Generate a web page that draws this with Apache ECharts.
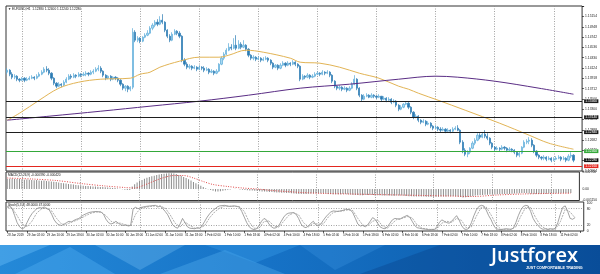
<!DOCTYPE html>
<html><head><meta charset="utf-8">
<script src="https://cdn.jsdelivr.net/npm/echarts@6/dist/echarts.min.js"></script>
<style>html,body{margin:0;padding:0;background:#fff}#c{width:600px;height:274px}</style>
</head><body><div id="c"></div>
<script>
// ---------------- DATA ----------------
const symbolName = 'EURUSD,H1';
const barCount = 234; // slots on the time axis (last few empty = chart shift)
const labelEvery = 8;
const timeLabels = ['28 Jan 2019','29 Jan 02:00','29 Jan 10:00','29 Jan 18:00','30 Jan 02:00','30 Jan 10:00','30 Jan 18:00',
 '31 Jan 02:00','31 Jan 10:00','31 Jan 18:00','1 Feb 02:00','1 Feb 10:00','1 Feb 18:00','4 Feb 02:00','4 Feb 10:00',
 '4 Feb 18:00','5 Feb 02:00','5 Feb 10:00','5 Feb 18:00','6 Feb 02:00','6 Feb 10:00','6 Feb 18:00','7 Feb 02:00',
 '7 Feb 10:00','7 Feb 18:00','8 Feb 02:00','8 Feb 10:00','8 Feb 18:00','11 Feb 02:00'];
const dayStartBars = [6,30,54,78,102,126,150,174,198,222];

// [open, close, low, high]
const bars = [
[1.1404,1.1408,1.1400,1.1412],[1.1408,1.1400,1.1396,1.1410],[1.1400,1.1394,1.1390,1.1404],[1.1394,1.1396,1.1390,1.1400],
[1.1396,1.1390,1.1386,1.1398],[1.1390,1.1388,1.1384,1.1392],[1.1388,1.1392,1.1386,1.1394],[1.1392,1.1388,1.1384,1.1394],
[1.1388,1.1390,1.1386,1.1394],[1.1390,1.1392,1.1388,1.1396],[1.1392,1.1394,1.1390,1.1398],[1.1394,1.1392,1.1388,1.1396],
[1.1392,1.1396,1.1390,1.1400],[1.1396,1.1400,1.1394,1.1404],[1.1400,1.1404,1.1398,1.1408],[1.1404,1.1410,1.1402,1.1414],
[1.1410,1.1408,1.1404,1.1416],[1.1408,1.1402,1.1398,1.1412],[1.1402,1.1392,1.1388,1.1404],[1.1392,1.1382,1.1378,1.1394],
[1.1382,1.1376,1.1372,1.1384],[1.1376,1.1380,1.1374,1.1384],[1.1380,1.1378,1.1374,1.1382],[1.1378,1.1384,1.1376,1.1388],
[1.1384,1.1390,1.1382,1.1394],[1.1390,1.1396,1.1388,1.1400],[1.1396,1.1394,1.1390,1.1400],[1.1394,1.1398,1.1392,1.1402],
[1.1398,1.1396,1.1392,1.1400],[1.1396,1.1400,1.1394,1.1404],[1.1400,1.1398,1.1394,1.1402],[1.1398,1.1400,1.1396,1.1404],
[1.1400,1.1402,1.1396,1.1406],[1.1402,1.1400,1.1396,1.1404],[1.1400,1.1404,1.1398,1.1408],[1.1404,1.1406,1.1400,1.1410],
[1.1406,1.1410,1.1404,1.1414],[1.1410,1.1412,1.1406,1.1418],[1.1412,1.1406,1.1402,1.1416],[1.1406,1.1398,1.1394,1.1408],
[1.1398,1.1392,1.1388,1.1400],[1.1392,1.1396,1.1390,1.1398],[1.1396,1.1390,1.1386,1.1398],[1.1390,1.1394,1.1388,1.1396],
[1.1394,1.1392,1.1388,1.1396],[1.1392,1.1388,1.1384,1.1394],[1.1388,1.1380,1.1376,1.1390],[1.1380,1.1372,1.1368,1.1382],
[1.1372,1.1376,1.1366,1.1378],[1.1376,1.1370,1.1364,1.1378],[1.1370,1.1374,1.1366,1.1376],[1.1374,1.1484,1.1370,1.1492],
[1.1484,1.1468,1.1464,1.1488],[1.1468,1.1472,1.1464,1.1476],[1.1472,1.1466,1.1462,1.1474],[1.1466,1.1474,1.1464,1.1476],
[1.1474,1.1478,1.1472,1.1482],[1.1478,1.1482,1.1476,1.1488],[1.1482,1.1492,1.1480,1.1496],[1.1492,1.1498,1.1488,1.1502],
[1.1498,1.1504,1.1494,1.1508],[1.1504,1.1500,1.1496,1.1510],[1.1500,1.1508,1.1498,1.1516],[1.1508,1.1504,1.1500,1.1520],
[1.1504,1.1488,1.1484,1.1506],[1.1488,1.1476,1.1472,1.1490],[1.1476,1.1468,1.1464,1.1480],[1.1468,1.1480,1.1466,1.1484],
[1.1480,1.1486,1.1478,1.1490],[1.1486,1.1482,1.1478,1.1488],[1.1482,1.1476,1.1472,1.1486],[1.1476,1.1428,1.1424,1.1478],
[1.1428,1.1420,1.1416,1.1432],[1.1420,1.1414,1.1410,1.1424],[1.1414,1.1416,1.1410,1.1420],[1.1416,1.1412,1.1408,1.1418],
[1.1412,1.1414,1.1410,1.1418],[1.1414,1.1410,1.1406,1.1416],[1.1410,1.1414,1.1408,1.1418],[1.1414,1.1412,1.1408,1.1416],
[1.1412,1.1408,1.1404,1.1416],[1.1408,1.1410,1.1406,1.1414],[1.1410,1.1404,1.1400,1.1412],[1.1404,1.1406,1.1402,1.1410],
[1.1406,1.1402,1.1398,1.1408],[1.1402,1.1406,1.1400,1.1410],[1.1406,1.1420,1.1404,1.1422],[1.1420,1.1432,1.1418,1.1436],
[1.1432,1.1440,1.1428,1.1444],[1.1440,1.1448,1.1438,1.1452],[1.1448,1.1454,1.1446,1.1462],[1.1454,1.1452,1.1448,1.1460],
[1.1452,1.1458,1.1450,1.1472],[1.1458,1.1452,1.1448,1.1478],[1.1452,1.1460,1.1450,1.1468],[1.1460,1.1454,1.1450,1.1464],
[1.1454,1.1458,1.1452,1.1468],[1.1458,1.1450,1.1446,1.1460],[1.1450,1.1438,1.1434,1.1452],[1.1438,1.1432,1.1428,1.1440],
[1.1432,1.1434,1.1428,1.1438],[1.1434,1.1430,1.1426,1.1436],[1.1430,1.1432,1.1428,1.1436],[1.1432,1.1428,1.1424,1.1434],
[1.1428,1.1430,1.1426,1.1434],[1.1430,1.1432,1.1428,1.1436],[1.1432,1.1428,1.1424,1.1434],[1.1428,1.1422,1.1418,1.1430],
[1.1422,1.1414,1.1410,1.1424],[1.1414,1.1418,1.1412,1.1420],[1.1418,1.1412,1.1408,1.1420],[1.1412,1.1418,1.1410,1.1422],
[1.1418,1.1422,1.1416,1.1426],[1.1422,1.1418,1.1414,1.1424],[1.1418,1.1422,1.1416,1.1426],[1.1422,1.1420,1.1416,1.1424],
[1.1420,1.1424,1.1418,1.1428],[1.1424,1.1420,1.1416,1.1426],[1.1420,1.1416,1.1412,1.1422],[1.1416,1.1390,1.1386,1.1418],
[1.1390,1.1396,1.1388,1.1400],[1.1396,1.1394,1.1390,1.1398],[1.1394,1.1398,1.1392,1.1402],[1.1398,1.1394,1.1390,1.1400],
[1.1394,1.1396,1.1392,1.1400],[1.1396,1.1400,1.1394,1.1404],[1.1400,1.1402,1.1398,1.1406],[1.1402,1.1400,1.1396,1.1404],
[1.1400,1.1404,1.1398,1.1408],[1.1404,1.1402,1.1398,1.1406],[1.1402,1.1404,1.1400,1.1408],[1.1404,1.1398,1.1394,1.1406],
[1.1398,1.1386,1.1382,1.1400],[1.1386,1.1376,1.1372,1.1388],[1.1376,1.1372,1.1368,1.1378],[1.1372,1.1374,1.1368,1.1378],
[1.1374,1.1370,1.1366,1.1376],[1.1370,1.1372,1.1368,1.1376],[1.1372,1.1368,1.1364,1.1374],[1.1368,1.1372,1.1366,1.1376],
[1.1372,1.1380,1.1370,1.1384],[1.1380,1.1390,1.1378,1.1398],[1.1390,1.1372,1.1368,1.1392],[1.1372,1.1358,1.1354,1.1374],
[1.1358,1.1350,1.1346,1.1360],[1.1350,1.1356,1.1348,1.1360],[1.1356,1.1358,1.1354,1.1362],[1.1358,1.1354,1.1352,1.1360],
[1.1354,1.1358,1.1352,1.1362],[1.1358,1.1356,1.1352,1.1360],[1.1356,1.1354,1.1350,1.1358],[1.1354,1.1356,1.1352,1.1360],
[1.1356,1.1350,1.1346,1.1356],[1.1350,1.1352,1.1348,1.1356],[1.1352,1.1348,1.1344,1.1354],[1.1348,1.1350,1.1346,1.1354],
[1.1350,1.1344,1.1340,1.1352],[1.1344,1.1346,1.1342,1.1350],[1.1346,1.1338,1.1334,1.1348],[1.1338,1.1330,1.1326,1.1340],
[1.1330,1.1334,1.1328,1.1338],[1.1334,1.1340,1.1332,1.1342],[1.1340,1.1342,1.1338,1.1346],[1.1342,1.1334,1.1330,1.1344],
[1.1334,1.1324,1.1320,1.1336],[1.1324,1.1314,1.1310,1.1326],[1.1314,1.1316,1.1312,1.1320],[1.1316,1.1308,1.1304,1.1318],
[1.1308,1.1304,1.1300,1.1310],[1.1304,1.1306,1.1302,1.1310],[1.1306,1.1300,1.1296,1.1308],[1.1300,1.1302,1.1298,1.1306],
[1.1302,1.1296,1.1292,1.1304],[1.1296,1.1292,1.1288,1.1298],[1.1292,1.1294,1.1290,1.1298],[1.1294,1.1290,1.1286,1.1296],
[1.1290,1.1288,1.1284,1.1294],[1.1288,1.1290,1.1286,1.1294],[1.1290,1.1286,1.1282,1.1292],[1.1286,1.1288,1.1284,1.1292],
[1.1288,1.1286,1.1282,1.1290],[1.1286,1.1290,1.1284,1.1294],[1.1290,1.1292,1.1288,1.1296],[1.1292,1.1288,1.1286,1.1298],
[1.1288,1.1264,1.1260,1.1290],[1.1264,1.1248,1.1242,1.1268],[1.1248,1.1240,1.1236,1.1252],[1.1240,1.1244,1.1234,1.1248],
[1.1244,1.1252,1.1240,1.1254],[1.1252,1.1262,1.1250,1.1266],[1.1262,1.1268,1.1258,1.1272],[1.1268,1.1278,1.1266,1.1282],
[1.1278,1.1274,1.1270,1.1282],[1.1274,1.1280,1.1272,1.1284],[1.1280,1.1276,1.1272,1.1288],[1.1276,1.1272,1.1268,1.1282],
[1.1272,1.1262,1.1258,1.1274],[1.1262,1.1254,1.1250,1.1264],[1.1254,1.1250,1.1246,1.1256],[1.1250,1.1252,1.1248,1.1256],
[1.1252,1.1250,1.1246,1.1254],[1.1250,1.1254,1.1248,1.1258],[1.1254,1.1252,1.1248,1.1256],[1.1252,1.1248,1.1244,1.1254],
[1.1248,1.1250,1.1246,1.1254],[1.1250,1.1248,1.1244,1.1252],[1.1248,1.1244,1.1240,1.1250],[1.1244,1.1238,1.1234,1.1246],
[1.1238,1.1242,1.1234,1.1246],[1.1242,1.1254,1.1240,1.1256],[1.1254,1.1264,1.1252,1.1268],[1.1264,1.1266,1.1260,1.1270],
[1.1266,1.1268,1.1260,1.1274],[1.1268,1.1258,1.1254,1.1272],[1.1258,1.1246,1.1242,1.1260],[1.1246,1.1238,1.1234,1.1248],
[1.1238,1.1234,1.1230,1.1240],[1.1234,1.1232,1.1228,1.1236],[1.1232,1.1234,1.1228,1.1238],[1.1234,1.1230,1.1226,1.1236],
[1.1230,1.1232,1.1228,1.1236],[1.1232,1.1228,1.1224,1.1234],[1.1228,1.1230,1.1226,1.1234],[1.1230,1.1232,1.1228,1.1236],
[1.1232,1.1234,1.1230,1.1238],[1.1234,1.1230,1.1226,1.1236],[1.1230,1.1232,1.1228,1.1236],[1.1232,1.1228,1.1224,1.1234],
[1.1228,1.1236,1.1226,1.1240],[1.1236,1.1238,1.1232,1.1244],[1.1238,1.1228,1.1224,1.1240]
];

// moving averages, read at key bars: [barIndex, price]
const maFast = [[0,1.1308],[5,1.1322],[13,1.1348],[21,1.1372],[29,1.1384],[38,1.1390],[50,1.1392],[54,1.1400],[58,1.1404],
 [62,1.1414],[70,1.1426],[78,1.1434],[86,1.1434],[90,1.1438],[97,1.1448],[104,1.1444],[115,1.1432],[119,1.1424],[127,1.1422],
 [135,1.1414],[143,1.1402],[151,1.1392],[159,1.1376],[163,1.1370],[167,1.1362],[175,1.1348],[186,1.1328],[200,1.1302],
 [212,1.1278],[220,1.1262],[230,1.1250]];
const maSlow = [[0,1.1308],[17,1.1316],[38,1.1326],[58,1.1336],[78,1.1346],[98,1.1358],[119,1.1372],[139,1.1380],
 [159,1.1390],[174,1.1396],[183,1.1394],[198,1.1386],[216,1.1372],[230,1.1360]];

const levelLines = [1.1346, 1.1314, 1.1284];
const greenLevel = 1.1246;
const redLevel = 1.1216;

const macdHist = [
 0.00100,0.00102,0.00105,0.00101,0.00099,0.00100,0.00097,0.00093,0.00096,0.00092,
 0.00090,0.00088,0.00089,0.00086,0.00083,0.00085,0.00080,0.00078,0.00076,0.00072,0.00069,0.00066,
 0.00061,0.00058,0.00054,0.00051,0.00048,0.00044,0.00040,0.00037,
 0.00034,0.00032,0.00031,0.00029,0.00028,0.00025,0.00026,0.00023,0.00021,0.00019,0.00018,0.00014,0.00012,0.00011,0.00009,0.00006,
 0.00002,-0.00003,-0.00007,-0.00010,-0.00009,
 0.00024,
 0.00048,0.00066,0.00080,0.00091,0.00102,0.00112,0.00121,0.00128,0.00133,0.00139,0.00144,
 0.00149,0.00153,0.00156,0.00158,0.00157,0.00154,
 0.00149,0.00141,0.00132,0.00121,0.00110,0.00098,
 0.00084,0.00071,0.00058,0.00046,
 0.00032,0.00019,0.00008,-0.00002,-0.00011,-0.00018,
 -0.00024,-0.00026,-0.00022,-0.00017,-0.00012,-0.00008,
 -0.00004,0.00001,0.00003,0.00001,-0.00004,-0.00007,-0.00010,-0.00012,-0.00014,-0.00016,-0.00018,-0.00020,
 -0.00022,-0.00024,-0.00026,-0.00028,-0.00030,-0.00031,-0.00032,-0.00034,-0.00036,-0.00037,-0.00038,-0.00040,-0.00041,-0.00042,-0.00044,-0.00047,
 -0.00049,-0.00050,-0.00050,-0.00049,-0.00048,-0.00046,-0.00044,-0.00043,-0.00042,-0.00042,-0.00043,-0.00046,-0.00049,-0.00051,-0.00052,-0.00052,
 -0.00053,-0.00052,-0.00051,-0.00050,-0.00052,-0.00055,-0.00058,-0.00060,-0.00061,-0.00062,-0.00062,-0.00061,-0.00060,-0.00060,-0.00061,-0.00062,-0.00063,-0.00063,-0.00064,-0.00064,-0.00065,-0.00066,-0.00067,-0.00067,
 -0.00066,-0.00065,-0.00066,-0.00068,-0.00070,-0.00072,-0.00073,-0.00074,-0.00075,-0.00075,-0.00076,-0.00076,-0.00077,-0.00077,-0.00078,-0.00078,-0.00077,-0.00077,-0.00076,-0.00075,-0.00074,-0.00073,-0.00072,-0.00071,-0.00072,
 -0.00076,-0.00081,-0.00084,-0.00083,-0.00080,-0.00076,-0.00071,-0.00066,
 -0.00062,-0.00060,-0.00059,-0.00058,-0.00057,-0.00056,-0.00055,-0.00054,-0.00053,-0.00052,-0.00051,-0.00050,-0.00049,-0.00049,-0.00048,-0.00046,
 -0.00044,-0.00042,-0.00040,-0.00041,-0.00043,-0.00045,-0.00047,-0.00049,-0.00050,-0.00050,-0.00049,-0.00048,-0.00047,-0.00046,-0.00045,-0.00044,-0.00043,-0.00042,-0.00042,-0.00041,-0.00040,-0.00040,-0.00039
];
const macdSignal = [[0,0.0011],[10,0.0010],[20,0.00085],[30,0.00055],[40,0.0003],[48,0.00015],[52,0.0001],[56,0.0004],
 [60,0.0008],[64,0.00115],[68,0.00135],[72,0.00135],[76,0.0011],[80,0.00075],[84,0.00045],[90,0.00025],[96,0.0001],
 [102,0],[108,-0.00015],[114,-0.00025],[120,-0.00035],[130,-0.00045],[140,-0.0005],[150,-0.00055],[160,-0.0006],
 [170,-0.00065],[180,-0.0007],[190,-0.00075],[200,-0.0006],[210,-0.0005],[220,-0.00045],[230,-0.00042]];

const stochMain = [[0,88],[1,90],[2,80],[3,55],[4,30],[5,15],[6,8],[7,12],[8,30],[9,48],[10,62],[11,72],[12,80],[13,84],[14,82],
 [15,86],[16,80],[17,76],[18,60],[19,40],[20,28],[21,22],[22,20],[23,24],[24,30],[25,35],[26,32],[27,38],[28,42],[29,45],[30,52],
 [31,58],[32,62],[33,66],[34,68],[36,70],[38,68],[39,60],[40,42],[41,30],[42,25],[43,28],[44,35],[45,28],[46,22],[47,20],[48,22],
 [49,18],[50,20],[51,80],[52,85],[53,80],[54,84],[56,88],[58,90],[60,92],[61,86],[62,90],[63,80],[64,70],[65,58],[66,40],[67,22],
 [68,14],[69,10],[70,25],[71,45],[72,30],[73,15],[74,10],[76,8],[77,12],[78,10],[79,20],[80,35],[81,50],[82,62],[83,72],[84,78],
 [85,86],[86,90],[88,92],[90,88],[92,90],[94,86],[95,70],[96,50],[97,30],[98,15],[99,8],[100,5],[101,8],[102,20],[103,35],[104,45],
 [105,40],[106,25],[107,15],[108,10],[109,12],[110,20],[111,35],[112,50],[113,60],[114,64],[116,66],[117,60],[118,45],[119,25],
 [120,15],[121,12],[122,18],[123,28],[124,35],[125,22],[126,18],[127,25],[128,38],[129,50],[130,60],[131,68],[132,72],[134,70],
 [136,74],[137,78],[139,76],[140,65],[141,45],[142,25],[143,18],[144,20],[145,15],[146,22],[147,35],[148,48],[149,42],[150,28],
 [151,15],[152,10],[153,8],[154,15],[155,28],[156,40],[157,45],[159,42],[160,48],[161,52],[162,56],[163,50],[164,35],[165,20],
 [166,12],[167,10],[168,8],[170,6],[171,4],[172,6],[173,5],[174,15],[175,30],[176,40],[177,35],[178,30],[179,28],[180,35],[181,45],
 [182,55],[183,40],[184,20],[185,8],[186,5],[187,10],[188,30],[189,55],[190,75],[191,88],[192,92],[193,90],[194,75],[195,55],
 [196,40],[197,20],[198,8],[199,6],[200,5],[202,8],[204,6],[205,10],[206,30],[207,55],[208,75],[209,88],[210,92],[211,90],[212,70],
 [213,45],[214,30],[215,20],[216,10],[217,6],[218,8],[219,5],[220,8],[221,6],[222,10],[223,30],[224,60],[225,85],[226,90],[227,70],
 [228,45],[229,42],[230,48]];
const stochSignal = [[0,85],[2,82],[4,55],[6,25],[8,15],[10,35],[12,65],[14,80],[16,82],[18,72],[20,45],[22,25],[24,24],[26,32],
 [28,38],[30,46],[32,56],[34,64],[36,68],[38,68],[40,55],[42,35],[44,28],[46,28],[48,21],[50,20],[52,60],[54,82],[56,85],[58,88],
 [60,90],[62,89],[64,82],[66,58],[68,28],[70,15],[72,32],[74,20],[76,10],[78,10],[80,20],[82,48],[84,68],[86,82],[88,89],[92,89],
 [94,88],[96,70],[98,32],[100,10],[102,10],[104,34],[106,36],[108,18],[110,14],[112,35],[114,56],[116,65],[118,58],[120,30],
 [122,15],[124,27],[126,25],[128,25],[130,50],[132,66],[134,71],[136,72],[138,76],[140,73],[142,45],[144,21],[146,19],[148,35],
 [150,40],[152,18],[154,10],[156,28],[158,43],[160,45],[162,52],[164,47],[166,22],[168,10],[170,7],[172,5],[174,8],[176,28],
 [178,35],[180,31],[182,45],[184,38],[186,11],[188,15],[190,53],[192,85],[194,86],[196,57],[198,23],[200,6],[204,6],[206,15],
 [208,53],[210,85],[212,84],[214,48],[216,20],[218,8],[222,7],[224,33],[226,78],[228,68],[230,47]];
const stochLevels = [80, 20];

// axis scales
const priceMin = 1.12064, priceStep = 0.00206, priceMax = 1.15364;
const macdMin = -0.00115, macdMax = 0.0017, macdStep = 0.00115;
const stochMin = 0, stochMax = 104, stochStep = 20;

// ---------------- CHART ----------------
const FONT = '"Liberation Sans", Arial, sans-serif';
const BW = 2.469;
const gridW = barCount * BW;
const catData = Array.from({length: barCount}, (_, i) => String(i));
const last = bars[bars.length - 1];
const f5 = v => v.toFixed(5);
const titleMain = '\u25BC ' + symbolName + '  ' + f5(last[0]) + ' ' + f5(last[3]) + ' ' + f5(last[2]) + ' ' + f5(last[1]);
const titleMacd = 'MACD(12,26,9) ' + macdHist[macdHist.length-1].toFixed(6) + ' ' + macdSignal[macdSignal.length-1][1].toFixed(6);
const titleStoch = 'Stoch(5,3,3) ' + stochMain[stochMain.length-1][1].toFixed(4) + ' ' + stochSignal[stochSignal.length-1][1].toFixed(4);

function xAx(gi, showLabels) {
  return {
    type: 'category', gridIndex: gi, data: catData, boundaryGap: true,
    axisLine: {show: false},
    axisTick: showLabels ? {show: true, alignWithLabel: true, interval: i => i % labelEvery === 0, length: 2, lineStyle: {color: '#000', width: 0.6}} : {show: false},
    axisLabel: showLabels ? {show: true, interval: i => i % labelEvery === 0, formatter: (v, i) => timeLabels[i / labelEvery] || '',
      fontSize: 3, color: '#111', align: 'left', margin: 2.5, fontFamily: FONT} : {show: false},
    splitLine: {show: true, alignWithLabel: true, interval: i => dayStartBars.includes(i),
      lineStyle: {color: '#8a8a8a', type: [1, 1.5], width: 0.8}}
  };
}
function levelItem(v, color, lineColor) {
  return {yAxis: v, lineStyle: {color: lineColor || color, width: 1, type: 'solid'},
    label: {show: true, position: 'end', distance: 2, formatter: f5(v), fontSize: 3.3, color: '#fff',
      backgroundColor: color, padding: [0.6, 1.2, 0.2, 1.2], fontFamily: FONT}};
}
const chart = echarts.init(document.getElementById('c'), null, {renderer: 'canvas', width: 600, height: 274});
const gridBase = {left: 6, width: gridW, show: true, borderColor: '#333', borderWidth: 1, backgroundColor: '#fff'};

const levelData = levelLines.map(v => levelItem(v, '#1e1e1e'))
  .concat([levelItem(greenLevel, '#34a83a'), levelItem(redLevel, '#e3261f'), levelItem(last[1], '#111', 'rgba(0,0,0,0)')]);

const option = {
  animation: false,
  backgroundColor: '#fff',
  textStyle: {fontFamily: FONT},
  grid: [
    Object.assign({top: 6, height: 165}, gridBase),
    Object.assign({top: 172, height: 28.5}, gridBase),
    Object.assign({top: 202, height: 29}, gridBase)
  ],
  xAxis: [xAx(0, false), xAx(1, false), xAx(2, true)],
  yAxis: [
    {type: 'value', gridIndex: 0, position: 'right', min: priceMin, max: priceMax, interval: priceStep,
      axisLine: {show: false}, axisTick: {show: true, length: 2, lineStyle: {color: '#000', width: 0.6}},
      axisLabel: {fontSize: 3.3, color: '#222', margin: 3, fontFamily: FONT, formatter: v => v > 1.153 ? '' : f5(v)},
      splitLine: {show: false}},
    {type: 'value', gridIndex: 1, position: 'right', min: macdMin, max: macdMax, interval: macdStep,
      axisLine: {show: false}, axisTick: {show: false},
      axisLabel: {fontSize: 3.3, color: '#222', margin: 3, fontFamily: FONT,
        formatter: v => Math.abs(v) < 1e-9 ? '0.00' : (Math.abs(v - macdMax) < 1e-9 || Math.abs(v - macdMin) < 1e-9 ? v.toFixed(6) : '')},
      splitLine: {show: false}},
    {type: 'value', gridIndex: 2, position: 'right', min: stochMin, max: stochMax, interval: stochStep,
      axisLine: {show: false}, axisTick: {show: false},
      axisLabel: {fontSize: 3.3, color: '#222', margin: 3, fontFamily: FONT,
        formatter: v => [0, 20, 80, 100].includes(Math.round(v * 1000) / 1000) ? String(Math.round(v)) : ''},
      splitLine: {show: false}}
  ],
  series: [
    {type: 'candlestick', xAxisIndex: 0, yAxisIndex: 0, data: bars, barWidth: 1.7, z: 3,
      itemStyle: {color: '#a9d9f1', color0: '#2b7bb3', borderColor: '#5aaad8', borderColor0: '#2b7bb3', borderWidth: 0.7}},
    {type: 'line', xAxisIndex: 0, yAxisIndex: 0, data: maFast, smooth: 0.35, showSymbol: false, symbol: 'none', z: 4,
      lineStyle: {color: '#e2b455', width: 1},
      markLine: {symbol: ['none', 'none'], silent: true, animation: false, precision: 5, data: levelData}},
    {type: 'line', xAxisIndex: 0, yAxisIndex: 0, data: maSlow, smooth: 0.35, showSymbol: false, symbol: 'none', z: 4,
      lineStyle: {color: '#5a2d85', width: 1}},
    {type: 'bar', xAxisIndex: 1, yAxisIndex: 1, data: macdHist, barWidth: 1, itemStyle: {color: '#8c8c8c'}},
    {type: 'line', xAxisIndex: 1, yAxisIndex: 1, data: macdSignal, smooth: 0.3, symbol: 'none',
      lineStyle: {color: '#e04a4a', width: 1, type: [1, 1.5]}},
    {type: 'line', xAxisIndex: 2, yAxisIndex: 2, data: stochMain, symbol: 'none',
      lineStyle: {color: '#8a8a8a', width: 0.8},
      markLine: {symbol: ['none', 'none'], silent: true, label: {show: false},
        data: stochLevels.map(v => ({yAxis: v})), lineStyle: {color: '#8a8a8a', type: [1, 1.5], width: 0.8}}},
    {type: 'line', xAxisIndex: 2, yAxisIndex: 2, data: stochSignal, symbol: 'none',
      lineStyle: {color: '#9a9a9a', width: 0.8, type: [2, 1]}}
  ],
  graphic: [
    {type: 'text', x: 8, y: 7.5, z: 100, style: {text: titleMain, fontSize: 3.2, fill: '#111', fontFamily: FONT, verticalAlign: 'top'}},
    {type: 'text', x: 8, y: 173.5, z: 100, style: {text: titleMacd, fontSize: 3.2, fill: '#111', fontFamily: FONT, verticalAlign: 'top'}},
    {type: 'text', x: 8, y: 203.5, z: 100, style: {text: titleStoch, fontSize: 3.2, fill: '#111', fontFamily: FONT, verticalAlign: 'top'}},
    {type: 'rect', z: 50, shape: {x: 0, y: 245, width: 600, height: 29},
      style: {fill: new echarts.graphic.LinearGradient(0, 0, 1, 0, [
        {offset: 0, color: '#2489d8'}, {offset: 0.45, color: '#1672c6'}, {offset: 1, color: '#0b57a5'}])}},
    {type: 'polygon', z: 51, shape: {points: [[0,245],[50,245],[0,266]]}, style: {fill: 'rgba(120,200,255,0.35)'}},
    {type: 'polygon', z: 51, shape: {points: [[15,274],[70,247],[115,274]]}, style: {fill: 'rgba(90,180,245,0.35)'}},
    {type: 'polygon', z: 51, shape: {points: [[95,245],[185,245],[140,270]]}, style: {fill: 'rgba(150,215,255,0.25)'}},
    {type: 'polygon', z: 51, shape: {points: [[160,274],[225,250],[285,274]]}, style: {fill: 'rgba(100,190,250,0.3)'}},
    {type: 'polygon', z: 51, shape: {points: [[205,245],[300,245],[255,263]]}, style: {fill: 'rgba(60,160,235,0.35)'}},
    {type: 'polygon', z: 51, shape: {points: [[300,245],[385,245],[335,270]]}, style: {fill: 'rgba(80,170,240,0.22)'}},
    {type: 'polygon', z: 51, shape: {points: [[360,274],[440,245],[600,245],[600,274]]}, style: {fill: 'rgba(5,55,125,0.3)'}},
    {type: 'text', x: 491, y: 246.5, z: 60, style: {text: 'Justforex', fontSize: 20, fontWeight: 600, fill: '#fff',
      fontFamily: '"Open Sans", "Noto Sans", sans-serif', verticalAlign: 'top'}},
    {type: 'text', x: 526, y: 266.2, z: 60, style: {text: 'JUST COMFORTABLE TRADING', fontSize: 3.7, fontWeight: 'bold', fill: '#fff',
      fontFamily: FONT, verticalAlign: 'top'}}
  ]
};
chart.setOption(option);
</script>
</body></html>
